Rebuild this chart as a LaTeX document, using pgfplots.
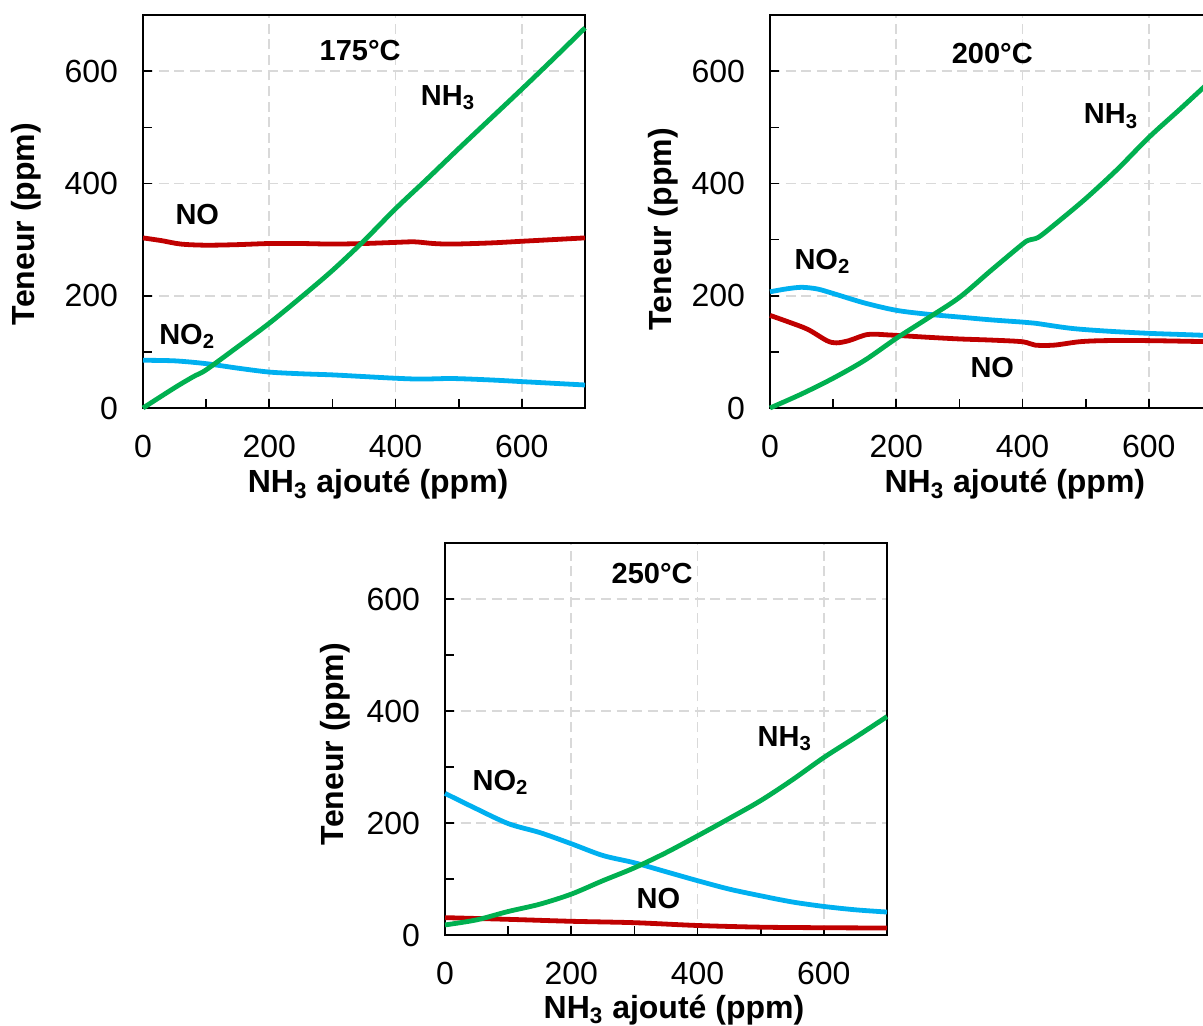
\documentclass[border=0pt]{standalone}
\usepackage{fontspec}
\setmainfont{Liberation Sans}
\usepackage{pgfplots}
\pgfplotsset{compat=1.18}
\definecolor{cgreen}{RGB}{0,176,80}
\definecolor{cred}{RGB}{192,0,0}
\definecolor{cblue}{RGB}{0,176,240}
\tikzset{ann/.style={font=\bfseries\fontsize{14.5}{14.5}\selectfont, inner sep=0pt}}
\begin{document}
\begin{tikzpicture}
\path[use as bounding box] (0,0) rectangle (601.5pt,512.5pt);
\clip (0,0) rectangle (601.5pt,512.5pt);
\pgfplotsset{
  myaxis/.style={
    scale only axis, width=221pt, height=196.5pt,
    xmin=0, xmax=700, ymin=0, ymax=700,
    xtick={0,200,400,600}, ytick={0,200,400,600},
    minor xtick={100,300,500}, minor ytick={100,300,500},
    tick align=inside, tick pos=left,
    major tick length=4.5pt, minor tick length=4.5pt,
    every tick/.style={black, line width=0.8pt},
    grid=major,
    major grid style={dash pattern=on 5pt off 2.8pt, black!15, line width=0.9pt},
    axis line style={line width=1.1pt},
    ticklabel style={font=\fontsize{16}{16}\selectfont},
    xticklabel style={yshift=-10pt},
    yticklabel style={xshift=-9pt},
    /pgf/number format/assume math mode=true,
    label style={font=\bfseries\fontsize{16}{16}\selectfont},
    xlabel={NH\textsubscript{3} ajouté (ppm)},
    ylabel={Teneur (ppm)},
    clip=false,
    every axis plot/.append style={line width=2.4pt, smooth, tension=0.5},
  },
}
% ---------- 175 C ----------
\begin{axis}[myaxis, at={(71.5pt,308.5pt)}, anchor=south west,
  xlabel style={at={(axis description cs:0.532,-0.216)}, anchor=base},
  ylabel style={at={(axis description cs:-0.265,0.468)}, anchor=center}]
\addplot[cred] coordinates {(0,303) (30,298) (60,292) (100,290) (150,291) (200,293) (250,293) (300,292) (350,293) (400,295) (430,296) (460,293) (490,292) (550,294) (600,297) (650,300) (700,303)};
\addplot[cblue] coordinates {(0,85) (50,84) (100,79) (150,71) (200,64) (250,61) (300,59) (350,56) (400,53) (440,51.5) (490,52.5) (550,50) (600,47) (650,44) (700,41)};
\addplot[cgreen] coordinates {(0,0) (50,36) (80,56) (100,68) (150,109) (200,151) (250,197) (300,245) (350,298) (400,355) (450,408) (500,462) (550,515) (600,568) (650,622) (700,677)};
\node[ann] at (axis cs:344,636) {175°C};
\node[ann] at (axis cs:483,553) {NH\textsubscript{3}};
\node[ann] at (axis cs:86,345) {NO};
\node[ann] at (axis cs:70,127) {NO\textsubscript{2}};
\end{axis}
% ---------- 200 C ----------
\begin{axis}[myaxis, at={(385pt,308.5pt)}, anchor=south west,
  xlabel style={at={(axis description cs:0.554,-0.216)}, anchor=base},
  ylabel style={at={(axis description cs:-0.241,0.455)}, anchor=center}]
\addplot[cred] coordinates {(0,165) (30,153) (60,140) (90,120) (105,116) (125,120) (155,131) (190,130) (250,126) (300,123) (350,121) (400,118) (420,112) (450,112) (490,118) (530,120) (600,120) (700,118)};
\addplot[cblue] coordinates {(0,207) (25,212) (50,215) (75,212) (100,204) (150,187) (200,174) (250,167) (300,162) (350,157) (400,153) (420,151) (476,142) (533,137) (600,133) (650,131) (700,129)};
\addplot[cgreen] coordinates {(0,0) (50,25) (100,53) (150,85) (200,124) (250,160) (300,197) (350,245) (400,292) (410,299) (425,304) (450,326) (500,373) (550,425) (600,482) (650,533) (700,585)};
\node[ann] at (axis cs:352,632) {200°C};
\node[ann] at (axis cs:540,520) {NH\textsubscript{3}};
\node[ann] at (axis cs:83,261) {NO\textsubscript{2}};
\node[ann] at (axis cs:352,73) {NO};
\end{axis}
% ---------- 250 C ----------
\begin{axis}[myaxis, at={(222.5pt,45pt)}, anchor=south west, height=196pt,
  xlabel style={at={(axis description cs:0.518,-0.212)}, anchor=base},
  ylabel style={at={(axis description cs:-0.248,0.487)}, anchor=center}]
\addplot[cred] coordinates {(0,31) (100,28) (200,24.5) (300,22) (400,17) (500,14) (600,13) (700,12.5)};
\addplot[cblue] coordinates {(0,253) (45,228) (100,199) (150,183) (200,163) (250,142) (300,129) (350,113) (400,97) (450,82) (500,70) (550,59) (600,51) (650,45) (700,41)};
\addplot[cgreen] coordinates {(0,18) (50,27) (100,42) (150,55) (200,73) (250,97) (300,120) (350,147) (400,177) (450,208) (500,240) (550,277) (600,317) (650,353) (700,390)};
\node[ann] at (axis cs:328,646) {250°C};
\node[ann] at (axis cs:538,351) {NH\textsubscript{3}};
\node[ann] at (axis cs:88,272) {NO\textsubscript{2}};
\node[ann] at (axis cs:338,66) {NO};
\end{axis}
\end{tikzpicture}
\end{document}
